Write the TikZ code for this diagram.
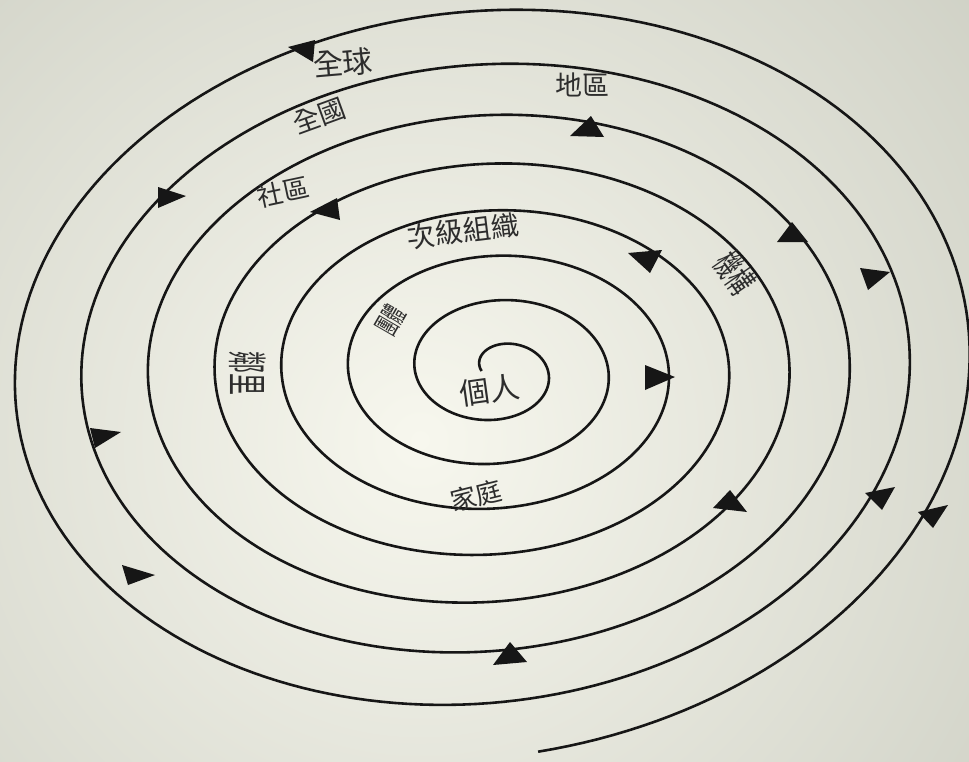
\documentclass[tikz,border=0pt]{standalone}
\usepackage{fontspec}
\newfontfamily\cjk{Noto Sans CJK TC}
\definecolor{bgmid}{RGB}{247,247,238}
\definecolor{bgout}{RGB}{198,200,188}
\definecolor{ink}{RGB}{22,22,22}
\newcommand{\fsz}[1]{\cjk\fontsize{#1}{#1}\selectfont}
\begin{document}
\begin{tikzpicture}[x=1pt,y=-1pt,
  lab/.style={text=ink!90, inner sep=0pt},
  spir/.style={draw=ink, line width=2.6pt, line join=round},
  barb/.style={fill=ink}]
\useasboundingbox (0,0) rectangle (969,761);
\fill[bgout] (0,0) rectangle (969,761);
\begin{scope}
\clip (0,0) rectangle (969,761);
\shade[inner color=bgmid, outer color=bgout] (420,440) circle (900);
\end{scope}
% spiral  (T = turns from start, phi = slow tilt)
\draw[spir] plot[domain=-180:2608, samples=1600, variable=\t]
 ({499 - 3.2*((\t+90)/360)
     + (34+63.5*((\t+90)/360))*cos(\t)*cos(0.12*((\t+90)/360)*((\t+90)/360))
     + (26.5+44*((\t+90)/360)+0.07*((\t+90)/360)*((\t+90)/360)*((\t+90)/360))*sin(\t)*sin(0.12*((\t+90)/360)*((\t+90)/360))},
  {371 - (34+63.5*((\t+90)/360))*cos(\t)*sin(0.12*((\t+90)/360)*((\t+90)/360))
     + (26.5+44*((\t+90)/360)+0.07*((\t+90)/360)*((\t+90)/360)*((\t+90)/360))*sin(\t)*cos(0.12*((\t+90)/360)*((\t+90)/360))});
% barbs
\fill[barb] (288,47) -- (315,40) -- (313,62) -- cycle;
\fill[barb] (570,136) -- (591,116) -- (604,137) -- cycle;
\fill[barb] (158,187) -- (158,208) -- (186,196) -- cycle;
\fill[barb] (310,212) -- (337,198) -- (340,220) -- cycle;
\fill[barb] (628,253) -- (662,250) -- (650,273) -- cycle;
\fill[barb] (777,242) -- (792,222) -- (808,242) -- cycle;
\fill[barb] (860,268) -- (890,272) -- (868,290) -- cycle;
\fill[barb] (645,365) -- (645,390) -- (675,377) -- cycle;
\fill[barb] (90,428) -- (95,448) -- (121,432) -- cycle;
\fill[barb] (713,508) -- (747,512) -- (730,490) -- cycle;
\fill[barb] (865,493) -- (895,487) -- (882,510) -- cycle;
\fill[barb] (918,512) -- (948,505) -- (933,528) -- cycle;
\fill[barb] (122,565) -- (128,585) -- (155,575) -- cycle;
\fill[barb] (493,665) -- (510,642) -- (527,662) -- cycle;
% labels
\node[lab, font=\fsz{30}, rotate=5] (quanqiu) at (343,63) {全球};
\node[lab, font=\fsz{27}, rotate=20] (quanguo) at (319,116) {全國};
\node[lab, font=\fsz{27}] (diqu) at (582,85) {地區};
\node[lab, font=\fsz{26}, rotate=12] (shequ) at (283,192) {社區};
\node[lab, font=\fsz{28}, rotate=7] (ciji) at (463,231) {次級組織};
\node[lab, font=\fsz{34}, rotate=-55, xscale=0.6] (jigou) at (735,273) {機構};
\node[lab, font=\fsz{28}, rotate=60, xscale=0.5] (tuanti) at (390,320) {團體};
\node[lab, font=\fsz{40}, rotate=-90, xscale=0.55] (linli) at (248,373) {鄰里};
\node[lab, font=\fsz{30}, rotate=8] (geren) at (490,390) {個人};
\node[lab, font=\fsz{26}, rotate=14] (jiating) at (476,496) {家庭};
\end{tikzpicture}
\end{document}
